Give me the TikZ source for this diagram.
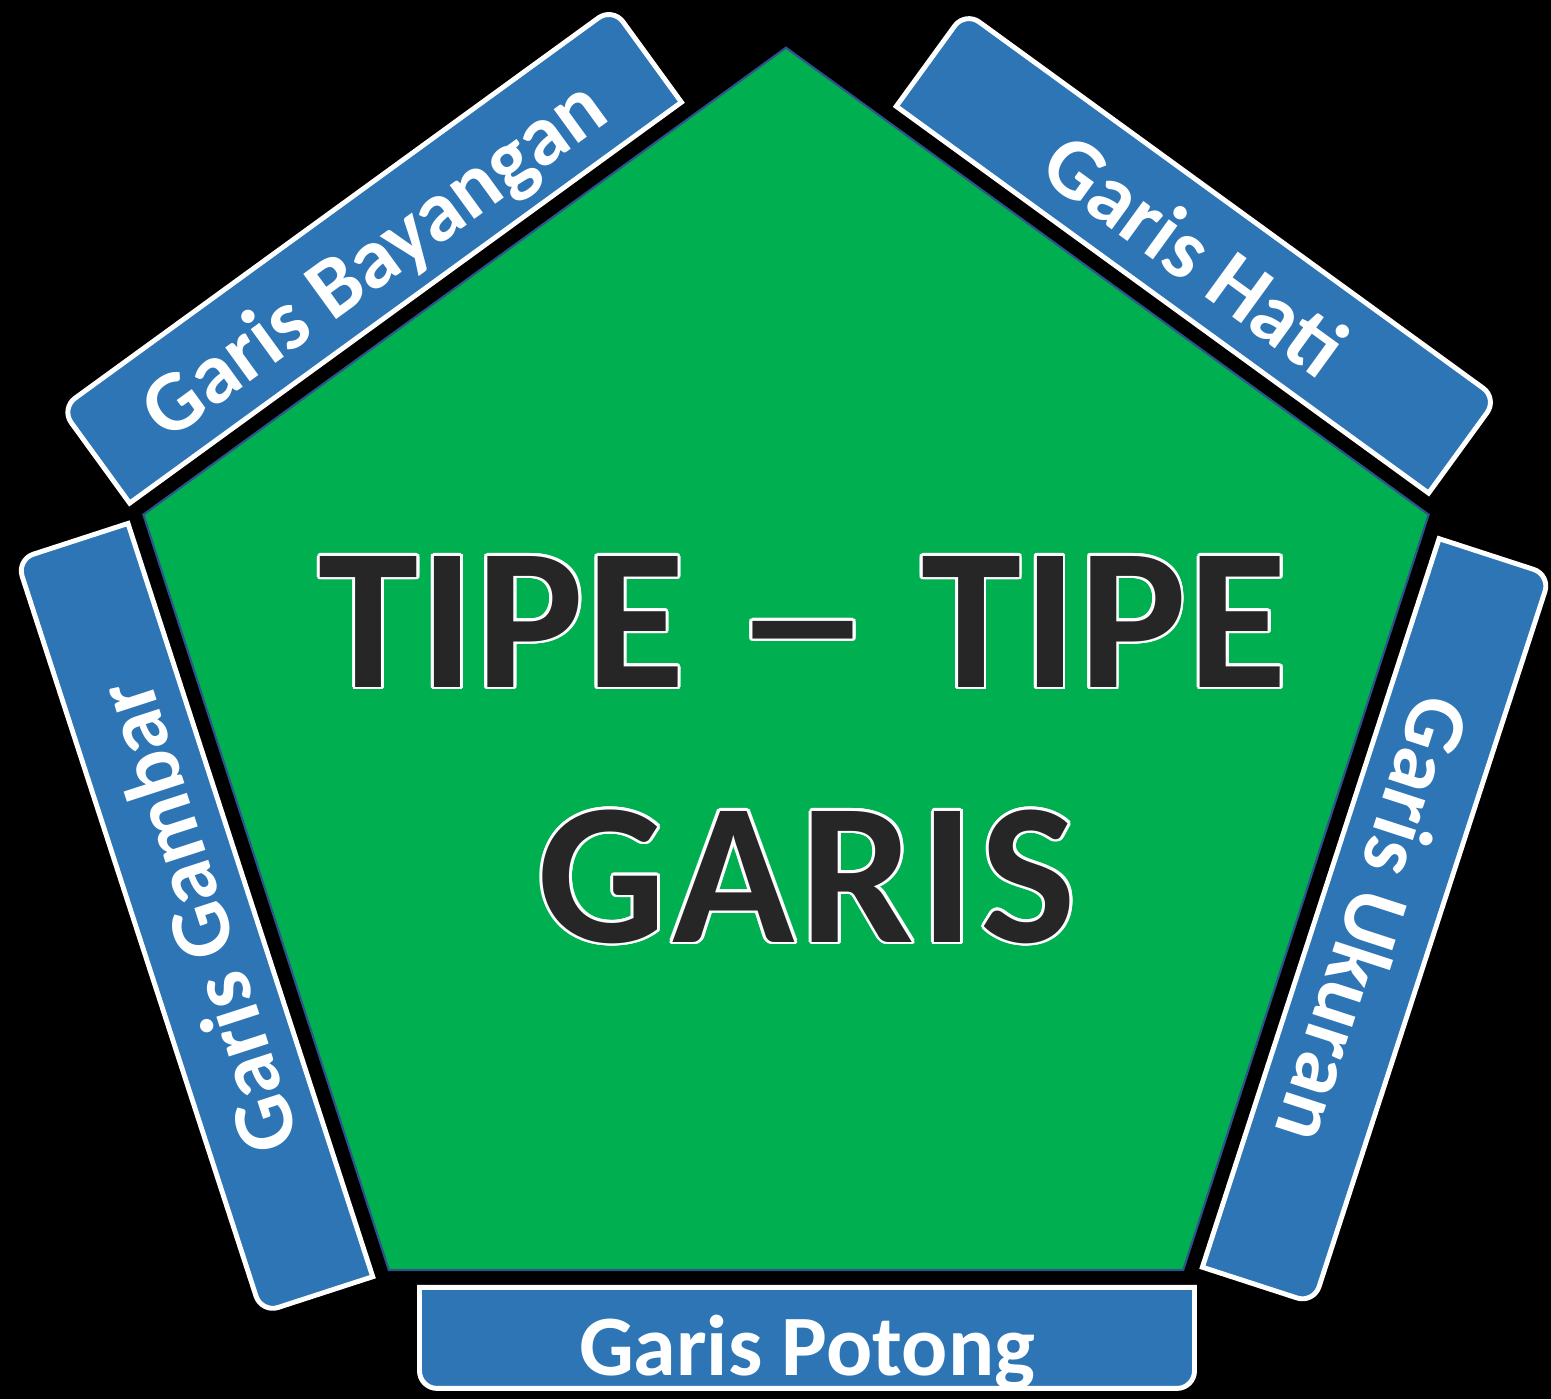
\documentclass[tikz,border=0pt]{standalone}
\usepackage{fontspec}
\setmainfont{Carlito}
\usepackage{contour}
\contourlength{0.8pt}
\definecolor{hijau}{HTML}{00B050}
\definecolor{biru}{HTML}{2E75B6}
\definecolor{garisbiru}{HTML}{2F528F}
\definecolor{gelap}{HTML}{262626}
\tikzset{
  pentagon/.style={draw=garisbiru,line width=0.6pt,fill=hijau},
  kotak/.style={draw=white,line width=1.4pt,fill=biru},
  namagaris/.style={text=white,font=\fontsize{24.5}{29}\selectfont\bfseries,
    text height=18pt,text depth=2.5pt,inner sep=0pt},
  judul/.style={text=gelap,font=\fontsize{57.5}{70}\selectfont\bfseries\addfontfeature{LetterSpace=1},
    text height=44pt,text depth=7pt,inner sep=0pt}
}
\begin{document}
\begin{tikzpicture}
\fill[black] (0,0) rectangle (15.51,13.99);
\coordinate (pusat) at (7.86,6.756);
% segi lima
\draw[pentagon,shift={(pusat)}] (90:6.757) -- (162:6.757) -- (234:6.757)
  -- (306:6.757) -- (18:6.757) -- cycle;
% kotak di tiap sisi
\foreach \ang/\xa/\xb/\yb/\rot/\ty/\txt [count=\i] in
  {0/-3.69/4.11/-6.65/0/-6.25/Garis Potong,
   -72/-3.96/4.01/-6.81/108/-6.18/Garis Gambar,
   -144/-2.83/4.04/-6.81/36/-6.18/Garis Bayangan,
   -216/-3.87/2.76/-6.81/-36/-6.18/Garis Hati,
   -288/-3.91/3.80/-6.81/-108/-6.18/Garis Ukuran}{
  \begin{scope}[shift={(pusat)},rotate=\ang]
    \draw[kotak] ({\xa+0.025},-5.64) -- ({\xa+0.025},{\yb+0.175})
      arc[start angle=180,end angle=270,radius=0.175] -- ({\xb-0.2},\yb)
      arc[start angle=270,end angle=360,radius=0.175] -- ({\xb-0.025},-5.64) -- cycle;
    \node[namagaris,rotate=\rot] (garis\i) at ({(\xa+\xb)/2},\ty) {\txt};
  \end{scope}
}
\node[judul] (tipe) at (8.03,7.77) {\contour{white}{TIPE \scalebox{1.4}[1]{–} TIPE}};
\node[judul] (garis) at (8.07,5.22) {\addfontfeature{LetterSpace=3}\contour{white}{GARIS}};
\end{tikzpicture}
\end{document}
